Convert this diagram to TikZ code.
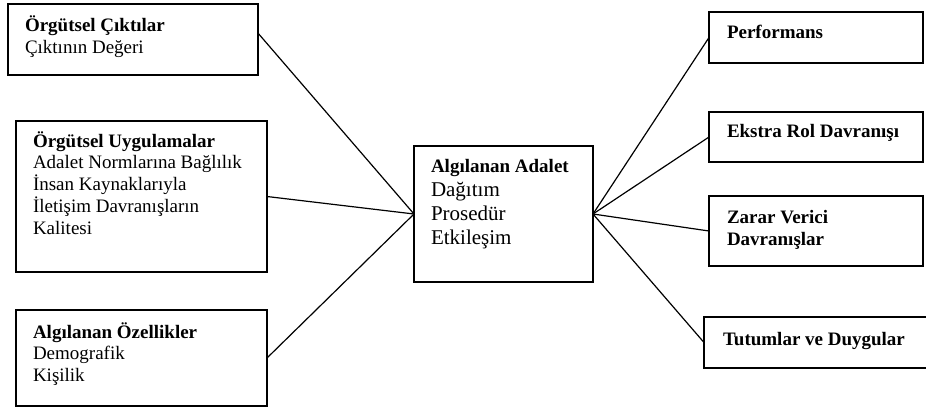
\documentclass[tikz,border=0pt]{standalone}
\usepackage{fontspec}
\setmainfont{Liberation Serif}
\usetikzlibrary{calc}
\newcommand{\bigline}[1]{{\fontsize{21}{23.7}\selectfont #1}}
\tikzset{
  box/.style={draw, line width=1.5pt, rectangle, inner sep=0pt, outer sep=0pt, anchor=north west},
  txt/.style={anchor=base west, inner sep=0pt, outer sep=0pt, align=left, font=\fontsize{19}{21.7}\selectfont},
  ctxt/.style={txt, font=\fontsize{19}{23.7}\selectfont},
  link/.style={draw, line width=1.2pt},
}
\begin{document}
\begin{tikzpicture}[x=1pt,y=-1pt]
\useasboundingbox (0,0) rectangle (926,407);
% left boxes
\node[box, minimum width=250pt, minimum height=71pt] (b1) at (8,4) {};
\node[box, minimum width=251pt, minimum height=151pt] (b2) at (16,121) {};
\node[box, minimum width=251pt, minimum height=96pt] (b3) at (16,310) {};
% center
\node[box, minimum width=179pt, minimum height=136pt] (c) at (414,146) {};
% right boxes
\node[box, minimum width=214pt, minimum height=51pt] (r1) at (709,12) {};
\node[box, minimum width=214pt, minimum height=50pt] (r2) at (709,112) {};
\node[box, minimum width=214pt, minimum height=70pt] (r3) at (709,196) {};
\node[box, minimum width=226pt, minimum height=51pt] (r4) at (704,317) {};
% texts (base anchor = baseline of the last line)
\node[txt] (t1) at (25,53.5) {\textbf{Örgütsel Çıktılar}\\Çıktının Değeri};
\node[txt] (t2) at (33,234) {\textbf{Örgütsel Uygulamalar}\\Adalet Normlarına Bağlılık\\İnsan Kaynaklarıyla\\İletişim Davranışların\\Kalitesi};
\node[txt] (t3) at (33,381.5) {\textbf{Algılanan Özellikler}\\Demografik\\Kişilik};
\node[ctxt] (tc) at (431,244) {\textbf{Algılanan Adalet}\\\bigline{Dağıtım}\\\bigline{Prosedür}\\\bigline{Etkileşim}};
\node[txt] (tr1) at (727,38) {\textbf{Performans}};
\node[txt] (tr2) at (727,137) {\textbf{Ekstra Rol Davranışı}};
\node[txt] (tr3) at (727,245) {\textbf{Zarar Verici}\\\textbf{Davranışlar}};
\node[txt] (tr4) at (723,345) {\textbf{Tutumlar ve Duygular}};
% connectors
\coordinate (b1p) at ($(b1.north east)!0.41!(b1.south east)$);
\draw[link] (b1p) -- (c.west);
\draw[link] (b2.east) -- (c.west);
\draw[link] (b3.east) -- (c.west);
\draw[link] (c.east) -- (r1.west);
\draw[link] (c.east) -- (r2.west);
\draw[link] (c.east) -- (r3.west);
\draw[link] (c.east) -- (r4.west);
\end{tikzpicture}
\end{document}
